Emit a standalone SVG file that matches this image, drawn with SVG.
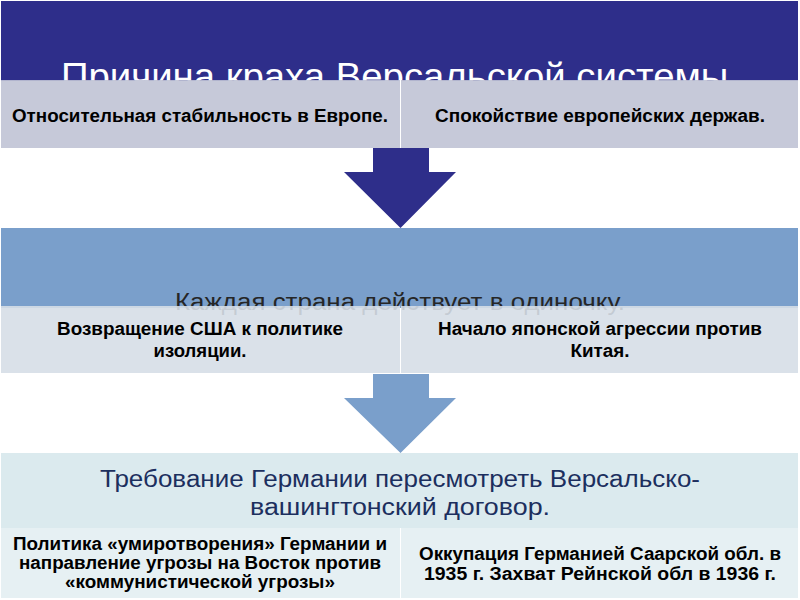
<svg xmlns="http://www.w3.org/2000/svg" width="800" height="600" viewBox="0 0 800 600">
  <style>
    .band1 { fill: #2e2e8a; }
    .band2 { fill: #7a9fcb; }
    .band3 { fill: #dbeaee; }
    .box1 { fill: #c0c3d5; fill-opacity: 0.9; }
    .box2 { fill: #d6dee7; fill-opacity: 0.9; }
    .box3 { fill: #e6f0f3; }
    .title { font-family: "Liberation Sans", Arial, sans-serif; font-size: 36px; fill: #ffffff; text-anchor: middle; }
    .mid { font-family: "Liberation Sans", Arial, sans-serif; font-size: 23px; fill: #262626; text-anchor: middle; }
    .req { font-family: "Liberation Sans", Arial, sans-serif; font-size: 23px; fill: #1c2f5e; text-anchor: middle; }
    .lbl { font-family: "Liberation Sans", Arial, sans-serif; font-size: 18px; font-weight: bold; fill: #000000; text-anchor: middle; }
  </style>
  <rect x="0" y="0" width="800" height="600" fill="#ffffff"/>

  <g id="level1">
    <rect class="band1" x="1" y="1" width="797" height="80"/>
    <text class="title" x="400" y="89" textLength="678" lengthAdjust="spacingAndGlyphs">Причина краха Версальской системы.</text>
  </g>
  <g id="box-stability">
    <rect class="box1" x="1" y="80" width="399" height="68"/>
    <text class="lbl" x="200" y="122" textLength="376" lengthAdjust="spacingAndGlyphs">Относительная стабильность в Европе.</text>
  </g>
  <g id="box-calm">
    <rect class="box1" x="401" y="80" width="397" height="68"/>
    <text class="lbl" x="600" y="122" textLength="330" lengthAdjust="spacingAndGlyphs">Спокойствие европейских держав.</text>
  </g>

  <g id="level2">
    <rect class="band2" x="1" y="228" width="797" height="80"/>
    <text class="mid" x="400" y="310" textLength="450" lengthAdjust="spacingAndGlyphs">Каждая страна действует в одиночку.</text>
  </g>
  <g id="box-usa">
    <rect class="box2" x="1" y="306" width="399" height="67"/>
    <text class="lbl" x="200" y="335" textLength="286" lengthAdjust="spacingAndGlyphs">Возвращение США к политике</text>
    <text class="lbl" x="200" y="357" textLength="93" lengthAdjust="spacingAndGlyphs">изоляции.</text>
  </g>
  <g id="box-japan">
    <rect class="box2" x="401" y="306" width="397" height="67"/>
    <text class="lbl" x="600" y="335" textLength="324" lengthAdjust="spacingAndGlyphs">Начало японской агрессии против</text>
    <text class="lbl" x="600" y="357" textLength="59" lengthAdjust="spacingAndGlyphs">Китая.</text>
  </g>

  <g id="level3">
    <rect class="band3" x="1" y="453" width="797" height="75"/>
    <text class="req" x="400" y="487" textLength="600" lengthAdjust="spacingAndGlyphs">Требование Германии пересмотреть Версальско-</text>
    <text class="req" x="400" y="515" textLength="300" lengthAdjust="spacingAndGlyphs">вашингтонский договор.</text>
  </g>
  <g id="box-appeasement">
    <rect class="box3" x="1" y="528" width="399" height="70"/>
    <text class="lbl" x="200" y="550" textLength="374" lengthAdjust="spacingAndGlyphs">Политика «умиротворения» Германии и</text>
    <text class="lbl" x="200" y="569" textLength="362" lengthAdjust="spacingAndGlyphs">направление угрозы на Восток против</text>
    <text class="lbl" x="200" y="588" textLength="270" lengthAdjust="spacingAndGlyphs">«коммунистической угрозы»</text>
  </g>
  <g id="box-saar">
    <rect class="box3" x="401" y="528" width="397" height="70" fill="#e9f1f4"/>
    <text class="lbl" x="600" y="560" textLength="362" lengthAdjust="spacingAndGlyphs">Оккупация Германией Саарской обл. в</text>
    <text class="lbl" x="600" y="580" textLength="352" lengthAdjust="spacingAndGlyphs">1935 г. Захват Рейнской обл в 1936 г.</text>
  </g>

  <g id="connectors">
    <polygon fill="#2e2e8a" points="373,148 429,148 429,172 456,172 400.5,228 344,172 373,172"/>
    <polygon fill="#7a9fcb" points="373,374 429,374 429,398 456,398 400.5,453 344,398 373,398"/>
  </g>
</svg>
